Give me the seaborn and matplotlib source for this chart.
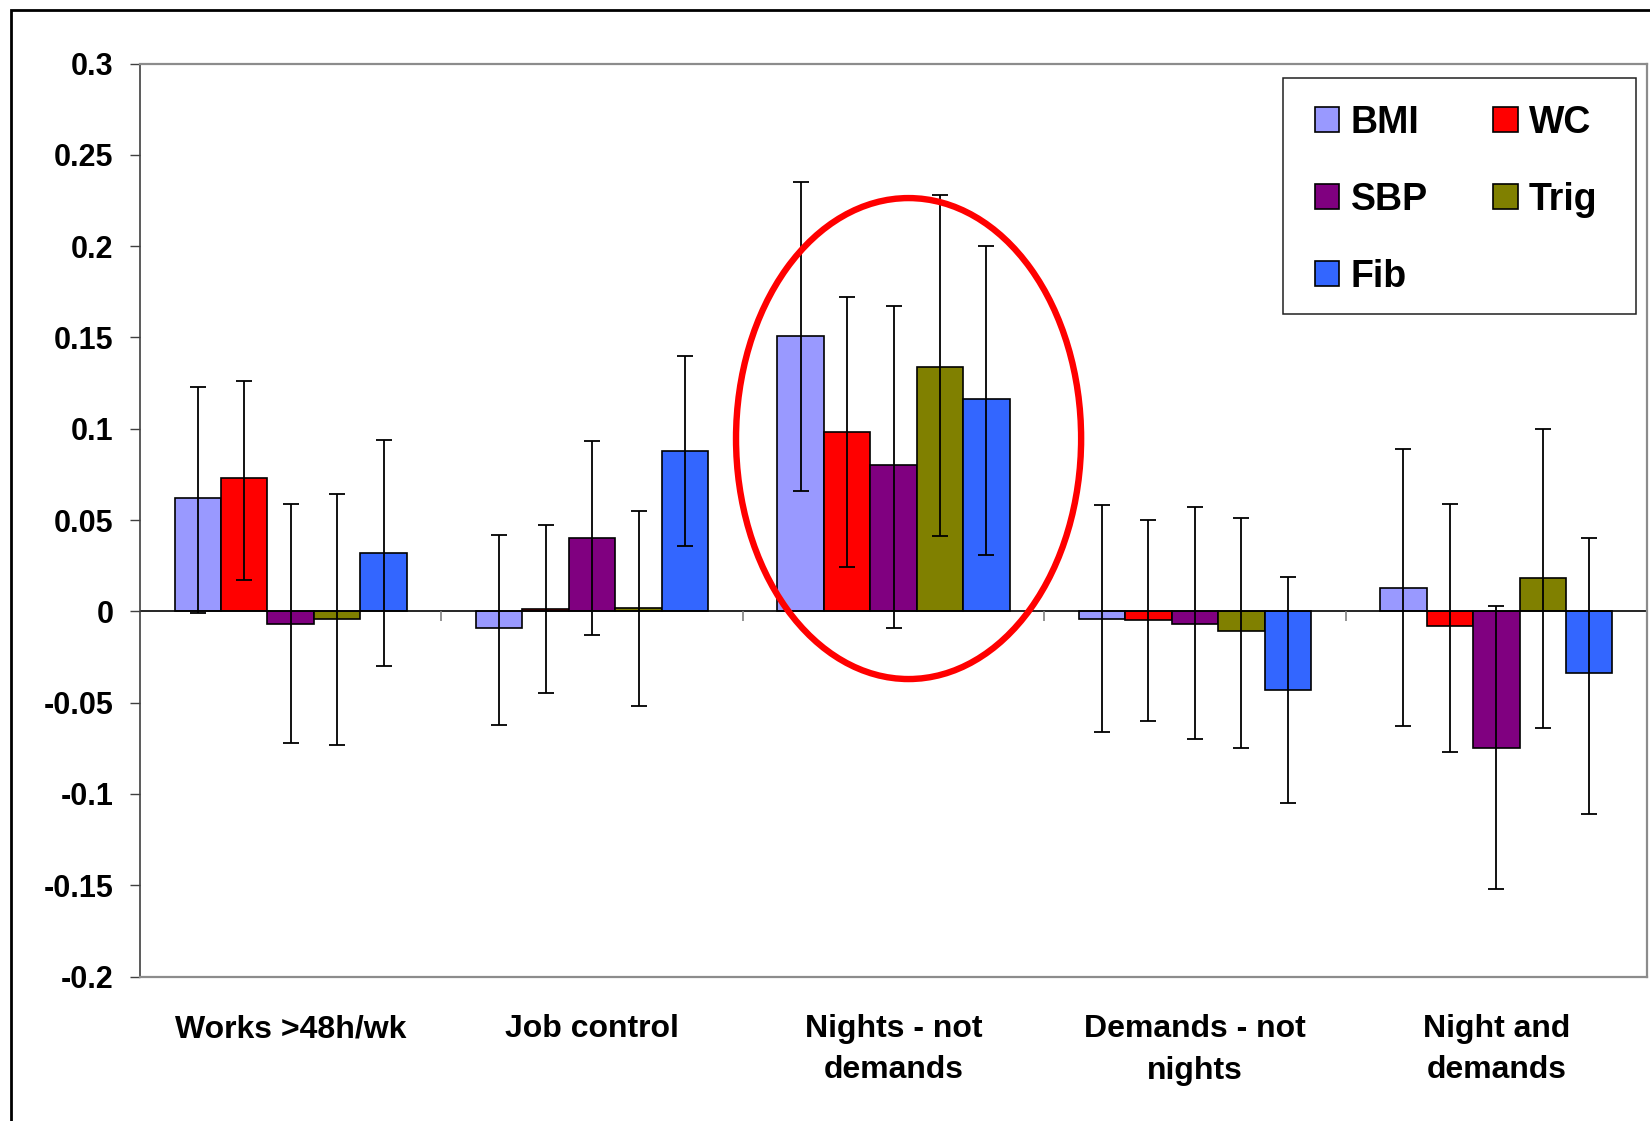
import numpy as np
import pandas as pd
import matplotlib
matplotlib.use("Agg")
import matplotlib.pyplot as plt
from matplotlib.patches import Ellipse, Rectangle, Patch
import seaborn as sns

# Exposure groups and outcome measures
groups = ["Works >48h/wk", "Job control", "Nights - not\ndemands",
          "Demands - not\nnights", "Night and\ndemands"]
measures = ["BMI", "WC", "SBP", "Trig", "Fib"]

# Estimates per measure (one value per group)
bmi = [0.062, -0.009, 0.151, -0.004, 0.013]
wc = [0.073, 0.001, 0.098, -0.005, -0.008]
sbp = [-0.007, 0.040, 0.080, -0.007, -0.075]
trig = [-0.004, 0.002, 0.134, -0.011, 0.018]
fib = [0.032, 0.088, 0.116, -0.043, -0.034]

# Lower and upper confidence limits
bmi_lo = [-0.001, -0.062, 0.066, -0.066, -0.063]
bmi_hi = [0.123, 0.042, 0.235, 0.058, 0.089]
wc_lo = [0.017, -0.045, 0.024, -0.060, -0.077]
wc_hi = [0.126, 0.047, 0.172, 0.050, 0.059]
sbp_lo = [-0.072, -0.013, -0.009, -0.070, -0.152]
sbp_hi = [0.059, 0.093, 0.167, 0.057, 0.003]
trig_lo = [-0.073, -0.052, 0.041, -0.075, -0.064]
trig_hi = [0.064, 0.055, 0.228, 0.051, 0.100]
fib_lo = [-0.030, 0.036, 0.031, -0.105, -0.111]
fib_hi = [0.094, 0.140, 0.200, 0.019, 0.040]

y_ticks = [0.3, 0.25, 0.2, 0.15, 0.1, 0.05, 0, -0.05, -0.1, -0.15, -0.2]
y_tick_labels = ["0.3", "0.25", "0.2", "0.15", "0.1", "0.05", "0",
                 "-0.05", "-0.1", "-0.15", "-0.2"]

colors = {"BMI": "#9999FF", "WC": "#FF0000", "SBP": "#800080",
          "Trig": "#808000", "Fib": "#3366FF"}

values = {"BMI": bmi, "WC": wc, "SBP": sbp, "Trig": trig, "Fib": fib}
lows = {"BMI": bmi_lo, "WC": wc_lo, "SBP": sbp_lo, "Trig": trig_lo, "Fib": fib_lo}
highs = {"BMI": bmi_hi, "WC": wc_hi, "SBP": sbp_hi, "Trig": trig_hi, "Fib": fib_hi}

rows = []
for m in measures:
    for g, v in zip(groups, values[m]):
        rows.append({"group": g, "measure": m, "value": v})
df = pd.DataFrame(rows)

sns.set_theme(style="white")
plt.rcParams["font.family"] = ["Liberation Sans", "DejaVu Sans"]
plt.rcParams["font.weight"] = "bold"
plt.rcParams["text.color"] = "black"
plt.rcParams["xtick.labelcolor"] = "black"
plt.rcParams["ytick.labelcolor"] = "black"

fig = plt.figure(figsize=(16.5, 11.21), dpi=100)
ax = fig.add_axes([140 / 1650, 1 - 976.5 / 1121, 1507 / 1650, (976.5 - 63.5) / 1121])

sns.barplot(data=df, x="group", y="value", hue="measure", order=groups,
            hue_order=measures, palette=colors, saturation=1, width=0.77,
            errorbar=None, edgecolor="black", linewidth=1.2, legend=False, ax=ax)

# Confidence interval whiskers
for m, cont in zip(measures, ax.containers):
    xs = [b.get_x() + b.get_width() / 2 for b in cont]
    v = np.array(values[m])
    err = np.vstack([v - np.array(lows[m]), np.array(highs[m]) - v])
    ax.errorbar(xs, v, yerr=err, fmt="none", ecolor="black", elinewidth=1.3,
                capsize=5.6, capthick=1.3, zorder=5)

ax.set_xlim(-0.5, 4.5)
ax.set_ylim(-0.2, 0.3)
ax.set_yticks(y_ticks)
ax.set_yticklabels(y_tick_labels, fontsize=22, fontweight="bold", color="black")
ax.set_xlabel("")
ax.set_ylabel("")
ax.tick_params(axis="y", length=7, width=1, color="#404040", pad=12, left=True)
ax.tick_params(axis="x", length=0, pad=27)
for lab in ax.get_xticklabels():
    lab.set_fontsize(23)
    lab.set_fontweight("bold")
    lab.set_color("black")
    lab.set_linespacing(1.5)

for side in ["top", "right", "bottom"]:
    ax.spines[side].set_color("#8c8c8c")
    ax.spines[side].set_linewidth(1.6)
ax.spines["left"].set_color("#404040")
ax.spines["left"].set_linewidth(1.2)

# Category axis at zero with boundary ticks
ax.axhline(0, color="black", linewidth=1.2, zorder=1)
bounds = np.arange(-0.5, 5.0, 1.0)
ax.vlines(bounds[1:], -0.0055, 0, color="#808080", linewidth=1.2, zorder=1)

# Highlight around the night-shift group
ax.add_patch(Ellipse((2.05, 0.0946), 1.145, 0.2634, fill=False,
                     edgecolor="#FF0000", linewidth=4.6, zorder=6, clip_on=False))

# Legend (two columns) with its own box
handles = [Patch(facecolor=colors[m], edgecolor="black", linewidth=1.2) for m in
           ["BMI", "SBP", "Fib", "WC", "Trig"]]
labels = ["BMI", "SBP", "Fib", "WC", "Trig"]
leg = fig.legend(handles, labels, ncol=2, loc="upper left",
                 bbox_to_anchor=(1315 / 1650, 1 - 105 / 1121), frameon=False,
                 prop={"size": 27, "weight": "bold"}, handlelength=0.65,
                 handleheight=0.65, handletextpad=0.3, columnspacing=1.75,
                 labelspacing=1.09, borderpad=0, borderaxespad=0)
for t in leg.get_texts():
    t.set_color("black")
fig.patches.append(Rectangle((1283 / 1650, 1 - 314 / 1121), 353 / 1650, 236 / 1121,
                             transform=fig.transFigure, fill=False,
                             edgecolor="#202020", linewidth=1.1, zorder=10))

# Outer frame
fig.patches.append(Rectangle((10.5 / 1650, -0.1), 2.0, 1.1 - 10.5 / 1121,
                             transform=fig.transFigure, fill=False,
                             edgecolor="black", linewidth=2.0, zorder=10))

fig.savefig("out.png", dpi=100, facecolor="white")
